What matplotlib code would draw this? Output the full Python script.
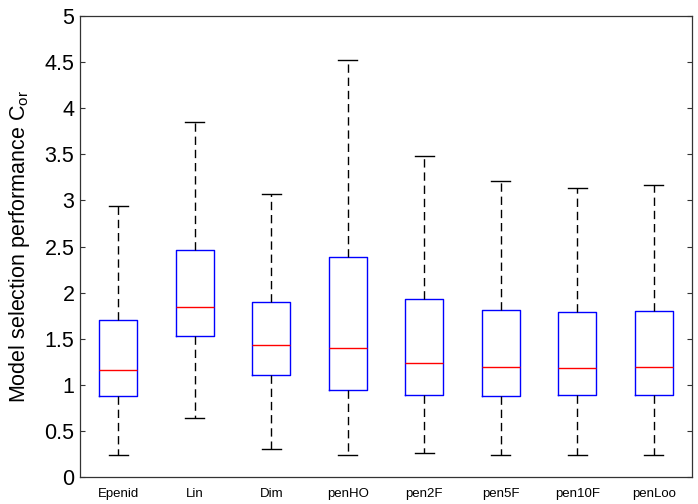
import matplotlib
matplotlib.use("Agg")
import matplotlib.pyplot as plt

plt.rcParams['font.family'] = ['Liberation Sans', 'DejaVu Sans']
plt.rcParams['mathtext.fontset'] = 'custom'
plt.rcParams['mathtext.rm'] = 'Liberation Sans'

# methods and box statistics
methods = ["Epenid", "Lin", "Dim", "penHO", "pen2F", "pen5F", "pen10F", "penLoo"]
whislo = [0.235, 0.64, 0.304, 0.235, 0.257, 0.235, 0.235, 0.235]
q1 = [0.875, 1.529, 1.103, 0.94, 0.889, 0.882, 0.886, 0.886]
med = [1.157, 1.847, 1.432, 1.403, 1.236, 1.197, 1.186, 1.19]
q3 = [1.703, 2.462, 1.895, 2.386, 1.927, 1.808, 1.786, 1.80]
whishi = [2.94, 3.854, 3.07, 4.523, 3.48, 3.207, 3.131, 3.17]

stats = []
for i in range(len(methods)):
    stats.append({"label": methods[i], "whislo": whislo[i], "q1": q1[i],
                  "med": med[i], "q3": q3[i], "whishi": whishi[i], "fliers": []})

fig = plt.figure(figsize=(6.98, 5.04), dpi=100)
ax = fig.add_axes([0.1146, 0.0536, 0.8768, 0.9144])

ax.bxp(stats, widths=0.5, showfliers=False,
       boxprops=dict(color="blue", linewidth=1),
       medianprops=dict(color="red", linewidth=1),
       whiskerprops=dict(color="black", linewidth=1, linestyle=(0, (6, 3.5))),
       capprops=dict(color="black", linewidth=1),
       capwidths=0.25)

ax.set_xlim(0.5, 8.5)
ax.set_ylim(0, 5)
ax.set_yticks([0, 0.5, 1, 1.5, 2, 2.5, 3, 3.5, 4, 4.5, 5])
ax.set_yticklabels(["0", "0.5", "1", "1.5", "2", "2.5", "3", "3.5", "4", "4.5", "5"])
ax.tick_params(axis="y", direction="in", length=3.6, width=0.8, right=True,
               labelsize=15.5, pad=4, color="#333333")
ax.tick_params(axis="x", length=0, labelsize=9.5, pad=8)
for s in ax.spines.values():
    s.set_color("#333333")
    s.set_linewidth(0.9)

ax.set_ylabel(r"Model selection performance C$\mathrm{_{or}}$", fontsize=15.5, labelpad=9)

plt.savefig("out.png", dpi=100)
